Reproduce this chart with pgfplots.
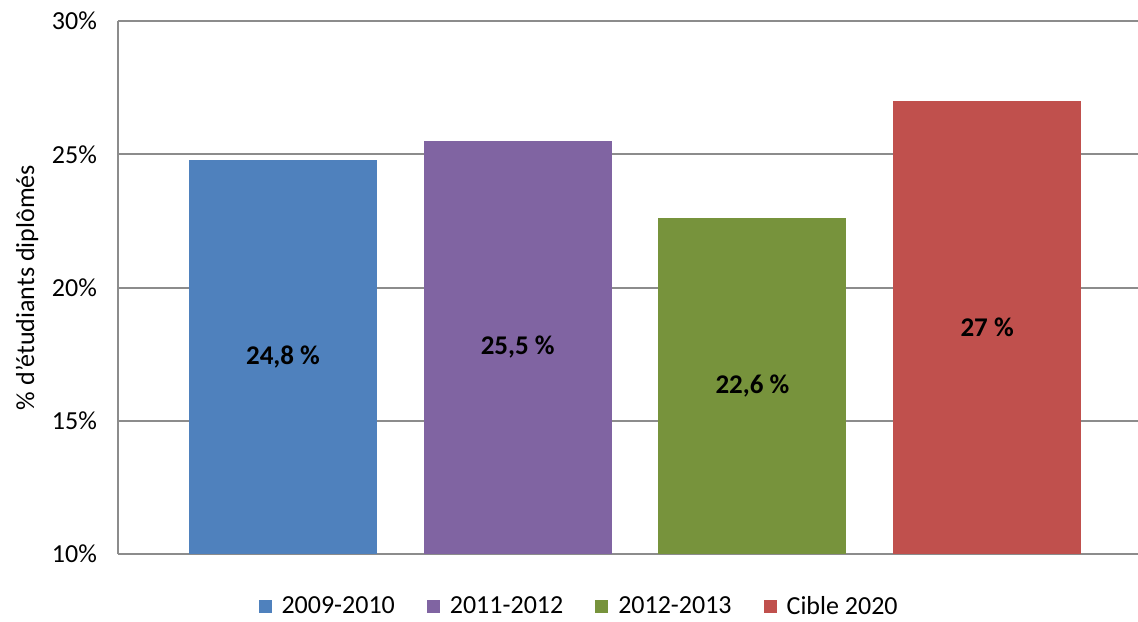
\documentclass[border=0pt]{standalone}
\usepackage{pgfplots}
\pgfplotsset{compat=1.18}
\usepackage{fontspec}
\setmainfont{Carlito}
\definecolor{cblue}{HTML}{4F81BD}
\definecolor{cpurple}{HTML}{8064A2}
\definecolor{cgreen}{HTML}{77933C}
\definecolor{cred}{HTML}{C0504D}
\definecolor{cgrid}{HTML}{8C8C8C}
\begin{document}
\fontsize{13}{15}\selectfont
\begin{tikzpicture}
\begin{axis}[
  name=ax,
  scale only axis,
  width=510pt, height=266.5pt,
  xmin=-0.703, xmax=3.643,
  ymin=10, ymax=30,
  ytick={10,15,20,25,30},
  yticklabels={10\%,15\%,20\%,25\%,30\%},
  xtick=\empty,
  axis lines*=left,
  axis line style={cgrid, line width=1pt},
  ymajorgrids,
  grid style={cgrid, line width=1pt},
  major tick length=0pt,
  tick label style={font=\fontsize{13}{15}\selectfont},
  yticklabel style={xshift=-6pt},
  ylabel={\% d’étudiants diplômés},
  ylabel style={font=\fontsize{13}{15}\selectfont, yshift=-2pt},
  ybar, bar width=94pt, bar shift=0pt,
  visualization depends on=y \as \rawy,
  nodes near coords={\pgfmathprintnumber[use comma,assume math mode=true]{\pgfplotspointmeta} \%},
  every node near coord/.append style={anchor=center, font=\fontsize{13.5}{15}\selectfont\bfseries, yshift={-(\rawy-10)*6.6625pt}},
  legend style={at={(rel axis cs:0.453,-0.0994)}, anchor=center, draw=none, legend columns=4,
    font=\fontsize{13}{15}\selectfont, /tikz/every even column/.append style={column sep=14pt},
    /tikz/every odd column/.append style={column sep=3pt}},
  legend image code/.code={\fill[#1] (0pt,-3.25pt) rectangle (6.5pt,3.25pt);},
]
\addplot[fill=cblue, draw=none] coordinates {(0,24.8)};
\addplot[fill=cpurple, draw=none] coordinates {(1,25.5)};
\addplot[fill=cgreen, draw=none] coordinates {(2,22.6)};
\addplot[fill=cred, draw=none] coordinates {(3,27)};
\legend{2009-2010,2011-2012,2012-2013,Cible 2020}
\end{axis}
\pgfresetboundingbox
\path ([xshift=-59pt,yshift=-33.5pt]ax.south west) rectangle ([yshift=10.5pt]ax.north east);
\end{tikzpicture}
\end{document}
